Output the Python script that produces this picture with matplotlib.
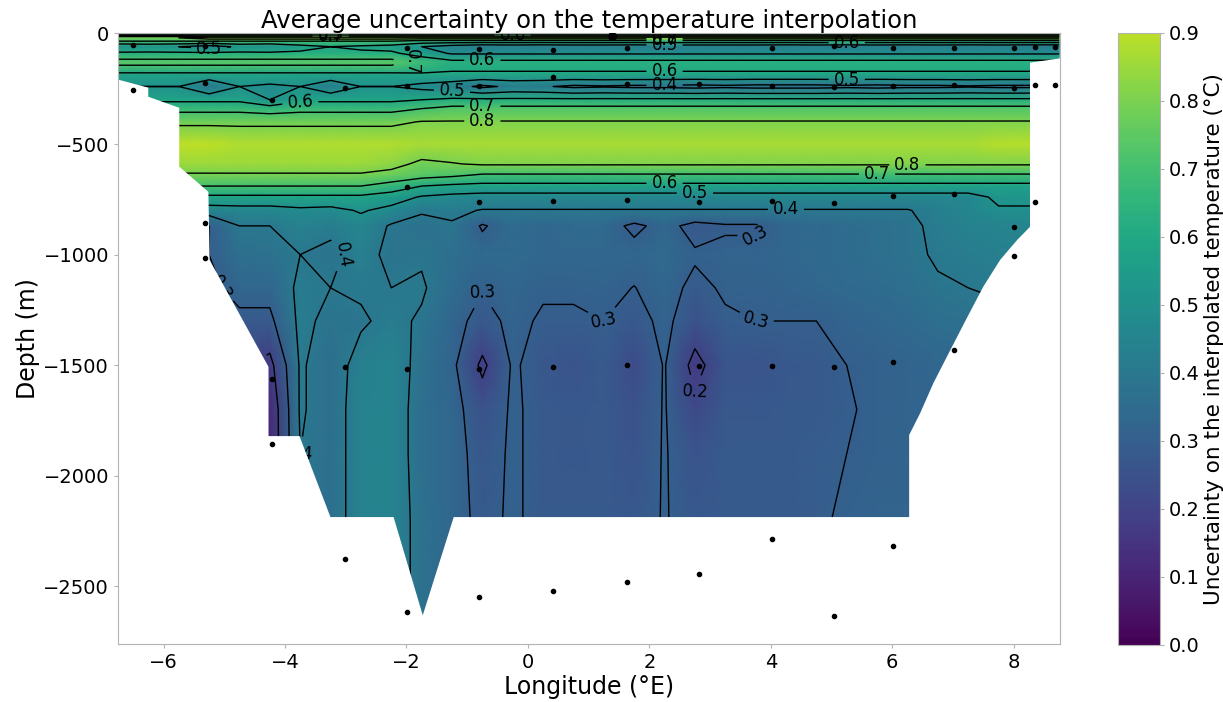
import numpy as np
import matplotlib
matplotlib.use('Agg')
import matplotlib.pyplot as plt
from matplotlib.colors import Normalize

# interpolation grid (longitude nodes, depth levels)
lon_grid = [-6.75, -6.25, -5.75, -5.25, -4.75, -4.25, -3.75, -3.25, -2.75, -2.25,
            -1.75, -1.25, -0.75, -0.25, 0.25, 0.75, 1.25, 1.75, 2.25, 2.75,
            3.25, 3.75, 4.25, 4.75, 5.25, 5.75, 6.25, 6.75, 7.25, 7.75, 8.25, 8.75]
depth_grid = [0, -20, -35, -60, -90, -130, -185, -240, -300, -340, -400, -500, -590,
              -640, -690, -740, -800, -870, -1000, -1150, -1300, -1500, -1700, -1900,
              -2200, -2650]

# uncertainty (degC), one row per depth level
unc_table = """
0.45 0.45 0.45 0.45 0.45 0.45 0.45 0.45 0.45 0.45 0.45 0.45 0.45 0.45 0.45 0.45 0.45 0.45 0.45 0.45 0.45 0.45 0.45 0.45 0.45 0.45 0.45 0.45 0.45 0.45 0.45 0.45
0.80 0.80 0.80 0.86 0.86 0.86 0.86 0.86 0.86 0.86 0.86 0.86 0.86 0.86 0.86 0.86 0.86 0.86 0.86 0.86 0.86 0.86 0.86 0.86 0.86 0.86 0.86 0.86 0.86 0.86 0.86 0.86
0.70 0.70 0.70 0.70 0.70 0.70 0.70 0.70 0.70 0.70 0.66 0.66 0.66 0.66 0.66 0.66 0.66 0.66 0.66 0.66 0.66 0.66 0.66 0.66 0.66 0.66 0.66 0.66 0.66 0.66 0.66 0.66
0.50 0.52 0.50 0.45 0.52 0.50 0.56 0.60 0.58 0.56 0.50 0.45 0.42 0.43 0.42 0.43 0.43 0.42 0.43 0.43 0.43 0.43 0.42 0.43 0.42 0.43 0.42 0.43 0.42 0.43 0.42 0.42
0.62 0.62 0.62 0.62 0.62 0.62 0.62 0.62 0.62 0.62 0.55 0.49 0.49 0.49 0.49 0.49 0.49 0.49 0.49 0.49 0.49 0.49 0.49 0.49 0.49 0.49 0.49 0.49 0.49 0.49 0.49 0.49
0.74 0.74 0.74 0.74 0.74 0.74 0.74 0.74 0.74 0.74 0.68 0.63 0.63 0.63 0.63 0.63 0.63 0.63 0.63 0.63 0.63 0.63 0.63 0.63 0.63 0.63 0.63 0.63 0.63 0.63 0.63 0.63
0.58 0.58 0.58 0.58 0.58 0.58 0.58 0.58 0.58 0.58 0.59 0.59 0.59 0.59 0.59 0.59 0.59 0.59 0.59 0.59 0.59 0.59 0.59 0.59 0.59 0.59 0.59 0.59 0.59 0.59 0.59 0.59
0.50 0.50 0.50 0.40 0.50 0.48 0.50 0.42 0.50 0.50 0.47 0.44 0.38 0.42 0.41 0.38 0.39 0.38 0.38 0.37 0.38 0.37 0.37 0.37 0.38 0.37 0.38 0.38 0.39 0.38 0.38 0.40
0.58 0.58 0.58 0.58 0.58 0.50 0.58 0.58 0.58 0.58 0.60 0.62 0.62 0.62 0.62 0.62 0.62 0.62 0.62 0.62 0.62 0.62 0.62 0.62 0.62 0.62 0.62 0.62 0.62 0.62 0.62 0.62
0.67 0.67 0.67 0.67 0.67 0.65 0.67 0.67 0.67 0.67 0.70 0.73 0.73 0.73 0.73 0.73 0.73 0.73 0.73 0.73 0.73 0.73 0.73 0.73 0.73 0.73 0.73 0.73 0.73 0.73 0.73 0.73
0.78 0.78 0.78 0.78 0.78 0.78 0.78 0.78 0.78 0.78 0.805 0.805 0.805 0.805 0.805 0.805 0.805 0.805 0.805 0.805 0.805 0.805 0.805 0.805 0.805 0.805 0.805 0.805 0.805 0.805 0.805 0.805
0.90 0.90 0.90 0.90 0.88 0.88 0.88 0.88 0.88 0.88 0.87 0.87 0.87 0.87 0.87 0.87 0.87 0.87 0.87 0.87 0.87 0.87 0.87 0.87 0.87 0.87 0.87 0.87 0.87 0.89 0.89 0.89
0.85 0.85 0.85 0.85 0.85 0.85 0.85 0.85 0.85 0.83 0.78 0.795 0.81 0.81 0.81 0.81 0.81 0.81 0.81 0.81 0.81 0.81 0.81 0.81 0.81 0.81 0.81 0.81 0.81 0.81 0.81 0.81
0.79 0.79 0.79 0.79 0.79 0.79 0.79 0.79 0.79 0.77 0.74 0.72 0.69 0.69 0.69 0.69 0.69 0.69 0.69 0.69 0.69 0.69 0.69 0.69 0.69 0.69 0.69 0.69 0.69 0.69 0.69 0.69
0.70 0.70 0.70 0.70 0.70 0.70 0.70 0.70 0.70 0.66 0.60 0.58 0.57 0.57 0.57 0.57 0.57 0.57 0.57 0.57 0.57 0.57 0.57 0.57 0.57 0.57 0.57 0.57 0.57 0.57 0.57 0.57
0.58 0.58 0.58 0.58 0.58 0.58 0.58 0.58 0.58 0.55 0.49 0.47 0.46 0.46 0.46 0.46 0.46 0.46 0.46 0.46 0.46 0.46 0.46 0.46 0.46 0.46 0.46 0.46 0.46 0.52 0.52 0.52
0.47 0.47 0.47 0.45 0.46 0.46 0.48 0.47 0.51 0.47 0.41 0.42 0.395 0.395 0.395 0.395 0.395 0.395 0.395 0.395 0.395 0.395 0.395 0.395 0.395 0.395 0.395 0.43 0.46 0.49 0.49 0.49
0.35 0.35 0.35 0.30 0.40 0.40 0.44 0.42 0.46 0.39 0.37 0.39 0.29 0.35 0.33 0.34 0.34 0.28 0.33 0.27 0.29 0.29 0.33 0.34 0.35 0.36 0.38 0.42 0.44 0.45 0.45 0.45
0.30 0.30 0.30 0.30 0.36 0.37 0.40 0.38 0.43 0.38 0.39 0.36 0.34 0.34 0.33 0.33 0.33 0.33 0.34 0.31 0.32 0.32 0.33 0.34 0.35 0.36 0.38 0.41 0.42 0.43 0.44 0.44
0.28 0.28 0.28 0.28 0.33 0.33 0.42 0.40 0.41 0.40 0.41 0.35 0.305 0.33 0.31 0.31 0.32 0.298 0.33 0.28 0.31 0.31 0.32 0.33 0.34 0.35 0.36 0.39 0.40 0.41 0.42 0.42
0.25 0.25 0.25 0.25 0.28 0.28 0.42 0.38 0.39 0.42 0.39 0.33 0.27 0.32 0.29 0.29 0.30 0.27 0.32 0.25 0.29 0.30 0.30 0.30 0.32 0.33 0.34 0.36 0.37 0.38 0.38 0.38
0.20 0.20 0.20 0.20 0.22 0.17 0.41 0.36 0.43 0.45 0.37 0.32 0.18 0.31 0.27 0.26 0.28 0.23 0.305 0.17 0.26 0.26 0.27 0.28 0.30 0.31 0.32 0.33 0.34 0.35 0.35 0.35
0.20 0.20 0.20 0.20 0.20 0.12 0.41 0.36 0.44 0.45 0.36 0.33 0.25 0.31 0.28 0.27 0.28 0.25 0.305 0.22 0.27 0.27 0.28 0.28 0.295 0.31 0.32 0.33 0.34 0.35 0.35 0.35
0.20 0.20 0.20 0.20 0.20 0.12 0.40 0.36 0.44 0.45 0.36 0.33 0.27 0.31 0.28 0.27 0.28 0.26 0.305 0.26 0.28 0.28 0.28 0.29 0.30 0.31 0.32 0.33 0.34 0.35 0.35 0.35
0.20 0.20 0.20 0.20 0.20 0.15 0.40 0.36 0.44 0.45 0.37 0.33 0.28 0.31 0.28 0.28 0.28 0.27 0.305 0.27 0.28 0.28 0.28 0.29 0.31 0.32 0.32 0.33 0.34 0.35 0.35 0.35
0.20 0.20 0.20 0.20 0.20 0.15 0.40 0.36 0.44 0.45 0.37 0.33 0.28 0.31 0.28 0.28 0.28 0.27 0.305 0.27 0.28 0.28 0.28 0.29 0.31 0.32 0.32 0.33 0.34 0.35 0.35 0.35
"""
unc = np.array([[float(v) for v in row.split()] for row in unc_table.strip().splitlines()])

# bottom / land outline (white mask)
bathy_lon = [-6.75, -6.26, -6.26, -5.75, -5.75, -5.27, -5.25, -4.28, -4.28, -3.77, -3.26,
             -2.22, -1.74, -1.23, 6.27, 6.27, 6.45, 6.67, 6.95, 7.23, 7.49, 7.77, 8.05,
             8.26, 8.26, 8.77]
bathy_depth = [-207, -243, -284, -334, -600, -714, -1022, -1505, -1818, -1818, -2184,
               -2184, -2628, -2184, -2184, -1813, -1715, -1578, -1428, -1279, -1143,
               -1021, -931, -872, -130, -110]

# measurement positions
obs_lon = [-6.51, -5.31, -1.99, -0.81, 0.42, 1.63, 4.02, 5.04, 6.01, 7.01, 8.0, 8.35, 8.68,
           -6.51, -5.31, -4.21, -3.01, -1.99, -0.81, 0.42, 1.63, 2.81, 4.02, 5.04, 6.01,
           7.01, 8.0, 8.35, 8.68,
           -5.31, -1.99, -0.81, 0.42, 1.63, 2.81, 4.02, 5.04, 6.01, 7.01, 8.35, 8.0,
           -5.31, 8.0,
           -4.21, -3.01, -1.99, -0.81, 0.42, 1.63, 2.81, 4.02, 5.04, 6.01, 7.01,
           -4.21, -3.01, -1.99, -0.81, 0.42, 1.63, 2.81, 4.02, 5.04, 6.01]
obs_depth = [-53, -57, -66, -71, -76, -66, -66, -57, -66, -66, -66, -62, -62,
             -257, -226, -302, -248, -239, -238, -199, -230, -230, -237, -244, -239,
             -235, -248, -234, -234,
             -859, -696, -764, -759, -755, -763, -759, -768, -737, -727, -764, -877,
             -1017, -1008,
             -1560, -1510, -1519, -1515, -1510, -1501, -1505, -1503, -1510, -1487, -1433,
             -1855, -2375, -2614, -2547, -2520, -2480, -2443, -2284, -2632, -2316]
surf_lon = [1.38]
surf_depth = [-12]

levels = [0.2, 0.3, 0.4, 0.5, 0.6, 0.7, 0.8]
cbar_ticks = [0.0, 0.1, 0.2, 0.3, 0.4, 0.5, 0.6, 0.7, 0.8, 0.9]

fig = plt.figure(figsize=(12.23, 7.02), dpi=100)
ax = fig.add_axes([0.0965, 0.082, 0.7706, 0.8704])
cax = fig.add_axes([0.9141, 0.0812, 0.0343, 0.872])

X, Y = np.meshgrid(lon_grid, depth_grid)
norm = Normalize(vmin=0, vmax=1.0)
mesh = ax.pcolormesh(X, Y, unc, shading='gouraud', cmap='viridis', norm=norm, zorder=1)
cs = ax.contour(X, Y, unc, levels=levels, colors='k', linewidths=1, zorder=1.5)
labels = ax.clabel(cs, fmt='%.1f', fontsize=12, inline=True)
for t in labels:
    t.set_zorder(1.6)

ax.fill_between(bathy_lon, bathy_depth, -3000, color='white', linewidth=0, zorder=2)
ax.scatter(obs_lon, obs_depth, s=9, color='k', zorder=3)
ax.scatter(surf_lon, surf_depth, s=30, color='k', zorder=3)

ax.set_xlim(-6.75, 8.77)
ax.set_ylim(-2762, 0)
ax.set_xticks([-6, -4, -2, 0, 2, 4, 6, 8])
ax.set_yticks([0, -500, -1000, -1500, -2000, -2500])
ax.tick_params(labelsize=14, color='0.7', length=3)
for s in ax.spines.values():
    s.set_color('0.7')
ax.set_xlabel('Longitude (°E)', fontsize=17, labelpad=2)
ax.set_ylabel('Depth (m)', fontsize=17, labelpad=2)
ax.set_title('Average uncertainty on the temperature interpolation', fontsize=17.5, pad=3)

cb = fig.colorbar(mesh, cax=cax, boundaries=np.linspace(0, 0.9, 181), ticks=cbar_ticks)
cb.outline.set_edgecolor('0.7')
cb.ax.tick_params(labelsize=14, color='0.7', length=3)
cb.ax.set_yticklabels(['%.1f' % v for v in cbar_ticks])
cb.set_label('Uncertainty on the interpolated temperature (°C)', fontsize=15.5, labelpad=3)

fig.savefig('out.png', dpi=100)
